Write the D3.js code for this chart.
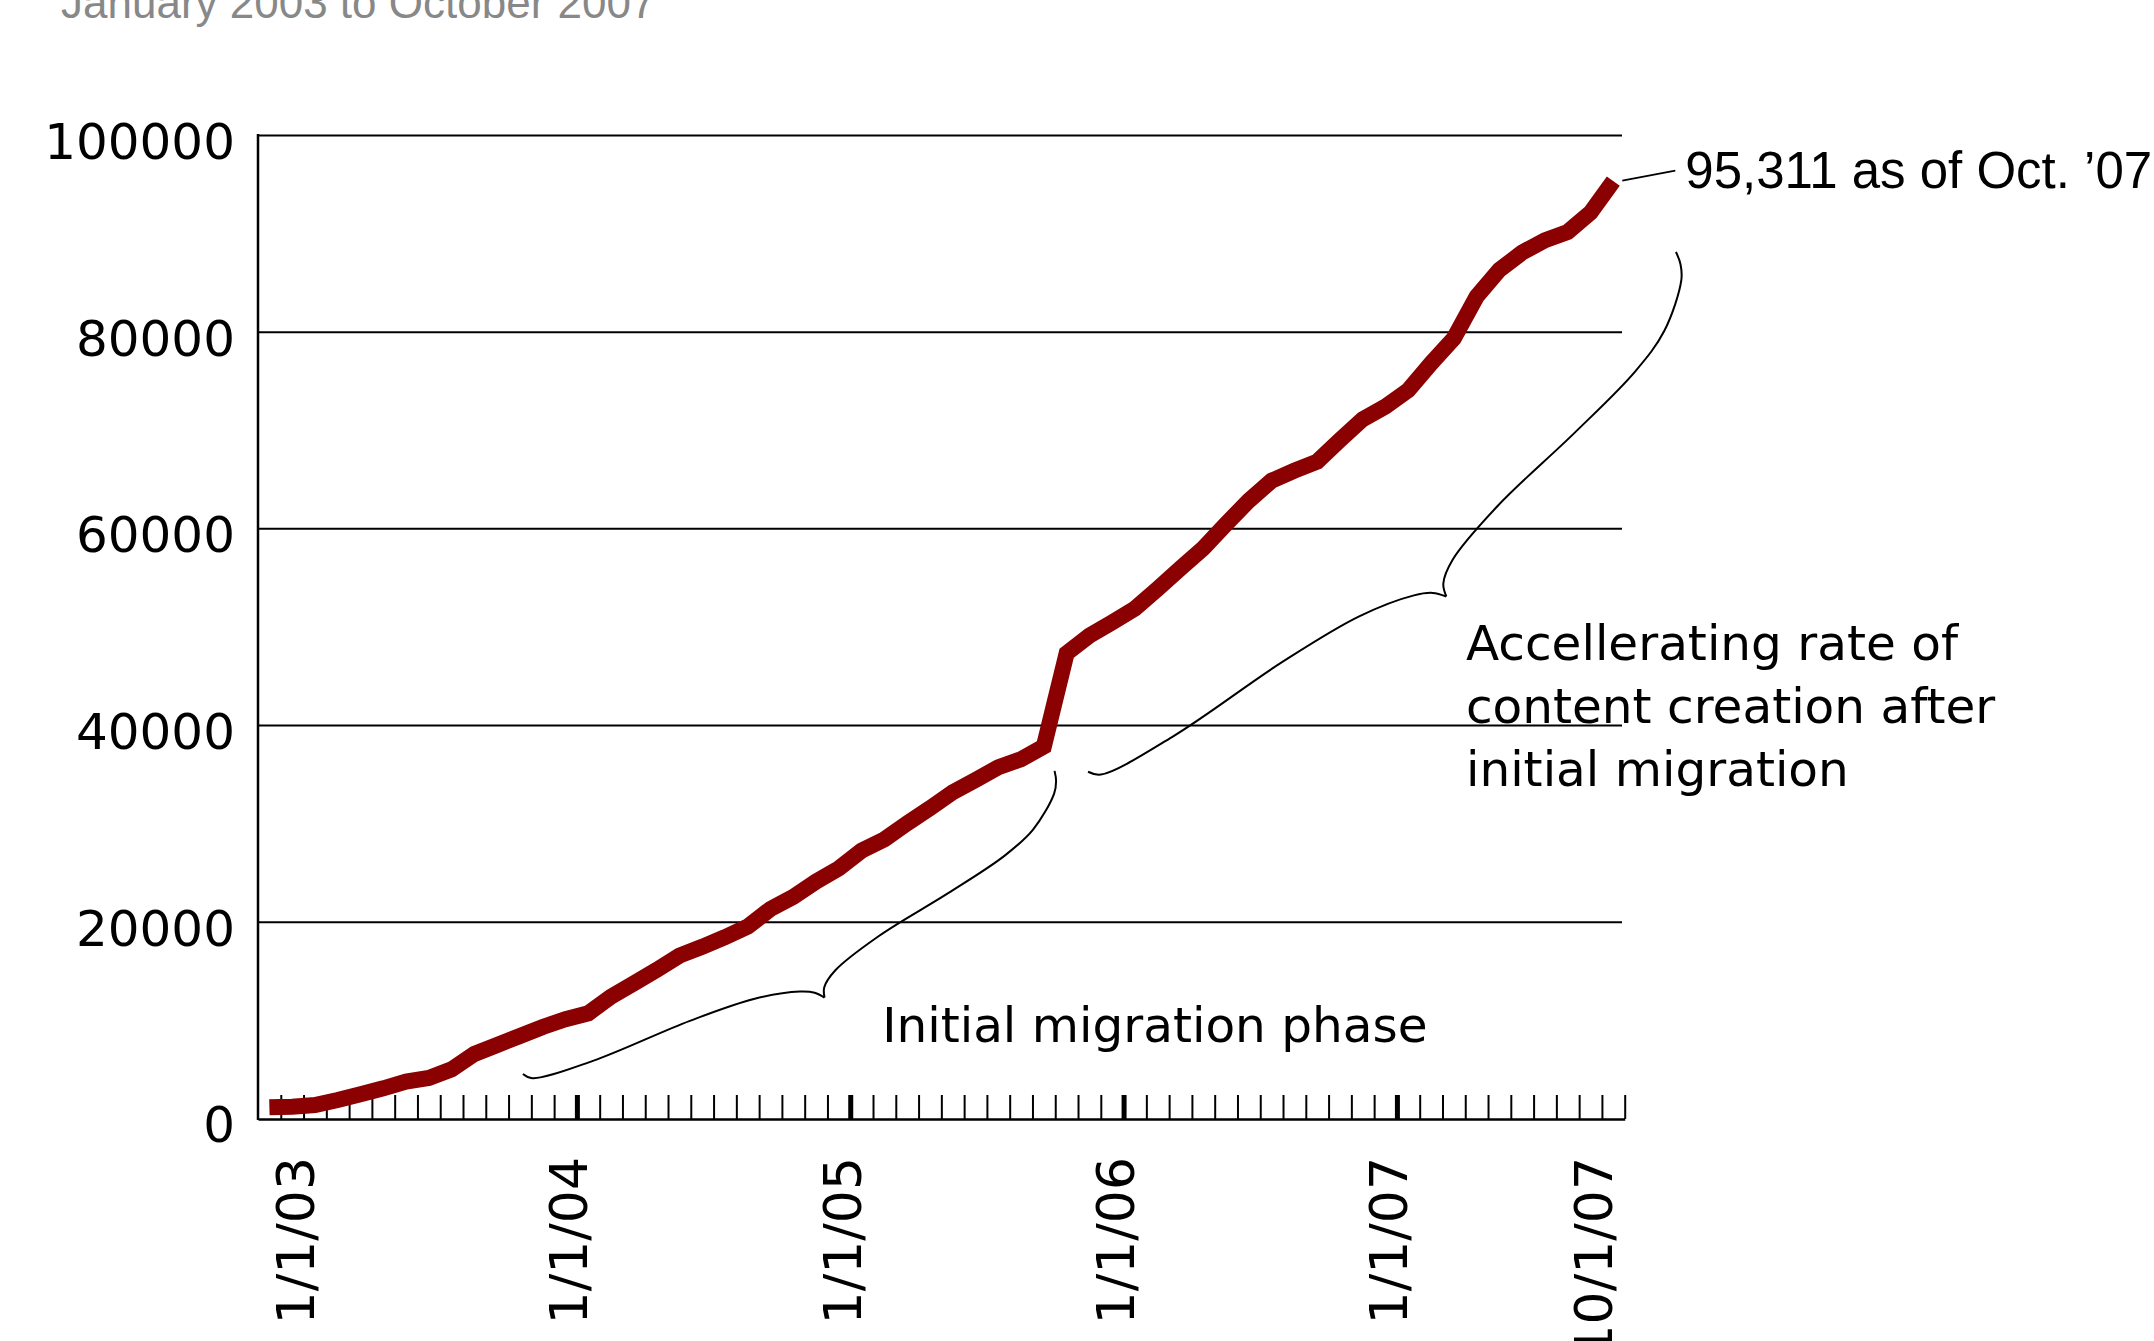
<!DOCTYPE html>
<html><head><meta charset="utf-8">
<script src="https://cdn.jsdelivr.net/npm/d3@7"></script>
<style>
html,body{margin:0;padding:0;background:#fff;overflow:hidden}
svg{display:block}
</style></head><body>
<svg id="chart" width="2154" height="1341"></svg>
<script>
// ---------- data ----------
const months = [
  "2002-11","2002-12",
  "2003-01","2003-02","2003-03","2003-04","2003-05","2003-06","2003-07","2003-08","2003-09","2003-10","2003-11","2003-12",
  "2004-01","2004-02","2004-03","2004-04","2004-05","2004-06","2004-07","2004-08","2004-09","2004-10","2004-11","2004-12",
  "2005-01","2005-02","2005-03","2005-04","2005-05","2005-06","2005-07","2005-08","2005-09","2005-10","2005-11","2005-12",
  "2006-01","2006-02","2006-03","2006-04","2006-05","2006-06","2006-07","2006-08","2006-09","2006-10","2006-11","2006-12",
  "2007-01","2007-02","2007-03","2007-04","2007-05","2007-06","2007-07","2007-08","2007-09","2007-10"
];
const pages = [
  1130, 1190,
  1360, 1870, 2450, 3060, 3740, 4110, 4990, 6550, 7470, 8380, 9300, 10080,
  10690, 12380, 13740, 15090, 16550, 17450, 18430, 19500, 21300, 22520, 24080, 25430,
  27230, 28380, 30010, 31540, 33160, 34420, 35700, 36520, 37830, 47300, 49090, 50450,
  51840, 53870, 55940, 57980, 60450, 62820, 64850, 65870, 66790, 68990, 71100, 72400,
  74050, 76790, 79330, 83570, 86280, 88050, 89300, 90140, 92110, 95311
];
const yTicks = [0, 20000, 40000, 60000, 80000, 100000];
const tickMonths = ["2003-01","2004-01","2005-01","2006-01","2007-01","2007-10"];
const tickLabels = ["1/1/03","1/1/04","1/1/05","1/1/06","1/1/07","10/1/07"];
const majorMonths = ["2004-01","2005-01","2006-01","2007-01"];
const subtitle = "January 2003 to October 2007";
const endLabel = "95,311 as of Oct. \u201907";
const phase1Label = ["Initial migration phase"];
const phase2Label = ["Accellerating rate of", "content creation after", "initial migration"];

// brace annotations, anchored in data space (month index, value)
const braces = [
  {from: [11.63, 4515],  to: [34.97, 35340], depth: 83},
  {from: [36.44, 35250], to: [62.25, 88110], depth: 106}
];
// brace outline shape (fraction along chord, fraction of depth)
const braceLeftArm  = [[0,0],[0.01,0.10],[0.11,0.28],[0.28,0.44],[0.39,0.596],[0.46,0.79],[0.48,0.89],[0.49,1.0]];
const braceRightArm = [[0.49,1.0],[0.498,0.89],[0.527,0.78],[0.617,0.68],[0.75,0.645],[0.86,0.59],[0.922,0.486],[0.981,0.235],[0.994,0.115],[1,0]];
const phase1Pos = [27.4, 7800];
const phase2Pos = [53.03, 46600];

// ---------- layout ----------
const W = 2154, H = 1341;
const L = 258, R = 1624.7, T = 135, B = 1118.4, gridRight = 1622;
const svg = d3.select("#chart");
svg.append("rect").attr("width", W).attr("height", H).attr("fill", "#fff");

const x = d3.scaleLinear().domain([0, months.length]).range([L, R]);
const y = d3.scaleLinear().domain([0, 100000]).range([B, T]);
const xc = i => x(i + 0.5);

// subtitle
svg.append("text").attr("x", 61).attr("y", 18)
  .attr("font-family", "Liberation Sans, Arial, sans-serif").attr("font-size", 44)
  .attr("fill", "#888").text(subtitle);

// gridlines
const grid = svg.append("g").attr("transform", `translate(${L},0)`)
  .call(d3.axisLeft(y).tickValues(yTicks.filter(v => v > 0)).tickSize(-(gridRight - L)).tickFormat(""));
grid.select(".domain").remove();
grid.selectAll("line").attr("stroke", "#000").attr("stroke-width", 2);

// y labels
const yAx = svg.append("g").attr("transform", `translate(${L},0)`)
  .call(d3.axisLeft(y).tickValues(yTicks).tickSize(0).tickPadding(23).tickFormat(d3.format("d")));
yAx.select(".domain").remove();
yAx.selectAll("text").attr("dy", null).attr("y", 23.5)
  .attr("font-family", "DejaVu Sans, sans-serif").attr("font-size", 50).attr("fill", "#000");

// y axis line
svg.append("line").attr("x1", L).attr("x2", L).attr("y1", y(100000) - 1).attr("y2", y(0) + 1.5)
  .attr("stroke", "#000").attr("stroke-width", 2.5);

// x axis minor ticks + baseline
const xMinor = svg.append("g").attr("transform", `translate(0,${B + 0.6})`)
  .call(d3.axisBottom(x).tickValues(d3.range(1, months.length + 1)).tickSize(-24).tickSizeOuter(0).tickFormat(""));
xMinor.select(".domain").attr("stroke", "#000").attr("stroke-width", 2.5);
xMinor.selectAll(".tick line").attr("stroke", "#000").attr("stroke-width", 2);

// major ticks
const xMajor = svg.append("g").attr("transform", `translate(0,${B + 0.6})`)
  .call(d3.axisBottom(x).tickValues(majorMonths.map(m => months.indexOf(m))).tickSize(-24).tickSizeOuter(0).tickFormat(""));
xMajor.select(".domain").remove();
xMajor.selectAll(".tick line").attr("stroke", "#000").attr("stroke-width", 5);

// x labels
const xLab = svg.append("g").attr("transform", `translate(0,${B + 0.6})`)
  .call(d3.axisBottom(x).tickValues(tickMonths.map(m => months.indexOf(m))).tickSize(0)
    .tickFormat(d => tickLabels[tickMonths.indexOf(months[d])]));
xLab.select(".domain").remove();
xLab.selectAll("text")
  .attr("transform", "rotate(-90)")
  .attr("text-anchor", "end")
  .attr("x", -38).attr("y", 10).attr("dy", null)
  .attr("font-family", "DejaVu Sans, sans-serif").attr("font-size", 52).attr("fill", "#000");

// data line
const line = d3.line().x((d, i) => xc(i)).y(d => y(d));
svg.append("path").datum(pages).attr("d", line)
  .attr("fill", "none").attr("stroke", "#8b0000").attr("stroke-width", 16)
  .attr("stroke-linejoin", "miter").attr("stroke-linecap", "butt");

// braces
const armLine = d3.line().curve(d3.curveCatmullRom.alpha(0.5));
braces.forEach(b => {
  const x1 = x(b.from[0]), y1 = y(b.from[1]);
  const x2 = x(b.to[0]), y2 = y(b.to[1]);
  const len = Math.hypot(x2 - x1, y2 - y1);
  const ux = (x2 - x1) / len, uy = (y2 - y1) / len;
  const px = -uy, py = ux;
  const toPix = ([s, t]) => [x1 + s * len * ux + t * b.depth * px, y1 + s * len * uy + t * b.depth * py];
  [braceLeftArm, braceRightArm].forEach(arm => {
    svg.append("path").attr("d", armLine(arm.map(toPix)))
      .attr("fill", "none").attr("stroke", "#000").attr("stroke-width", 2);
  });
});

// annotation texts
const annFont = "DejaVu Sans, sans-serif";
svg.append("text").attr("x", x(phase1Pos[0])).attr("y", y(phase1Pos[1]))
  .attr("font-family", annFont).attr("font-size", 48.5).attr("fill", "#000").text(phase1Label[0]);
const p2 = svg.append("text").attr("x", x(phase2Pos[0])).attr("y", y(phase2Pos[1]))
  .attr("font-family", annFont).attr("font-size", 48.5).attr("fill", "#000");
phase2Label.forEach((t, i) => {
  p2.append("tspan").attr("x", x(phase2Pos[0])).attr("dy", i === 0 ? 0 : 63).text(t);
});

// end label with leader
const lastI = pages.length - 1;
const lx = xc(lastI), ly = y(pages[lastI]);
svg.append("line").attr("x1", lx + 9).attr("y1", ly - 0.5).attr("x2", lx + 62).attr("y2", ly - 10.5)
  .attr("stroke", "#000").attr("stroke-width", 2);
svg.append("text").attr("x", lx + 72).attr("y", ly + 7)
  .attr("font-family", "Liberation Sans, Arial, sans-serif").attr("font-size", 51)
  .attr("fill", "#000").text(endLabel);
</script>
</body></html>
